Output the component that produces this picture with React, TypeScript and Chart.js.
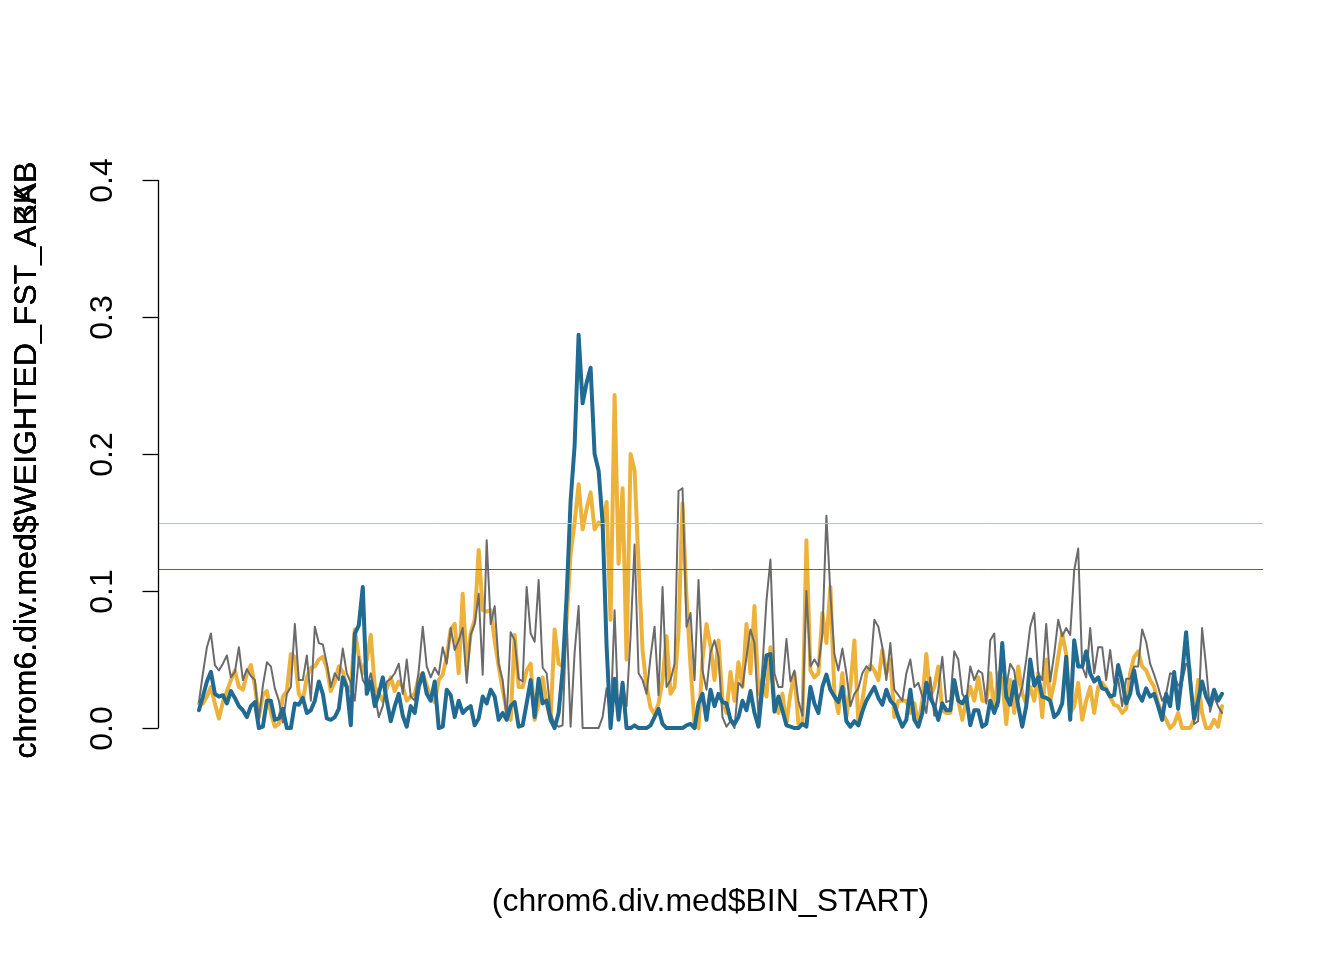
import React, { useEffect, useRef } from "react";
import { Chart, registerables } from "chart.js";

Chart.register(...registerables);

// FST per bin along chromosome 6 (bin index 0..256)
const grayFst: number[] = [
  0.019,0.040,0.059,0.069,0.046,0.042,0.047,0.053,0.037,0.041,0.059,0.035,0.043,0.038,0.035,0.006,0.031,0.048,0.045,0.029,0.020,0.004,0.025,0.030,0.076,0.035,0.035,0.053,0.020,0.074,0.062,
  0.061,0.047,0.030,0.040,0.035,0.058,0.040,0.033,0.020,0.052,0.035,0.030,0.040,0.025,0.008,0.016,0.034,0.036,0.040,0.047,0.025,0.050,0.023,0.020,0.042,0.074,0.045,0.037,0.044,0.039,0.059,0.047,0.073,
  0.057,0.064,0.073,0.033,0.068,0.076,0.098,0.039,0.137,0.076,0.089,0.047,0.035,0.006,0.070,0.064,0.036,0.034,0.103,0.069,0.063,0.108,0.044,0.040,0.011,0.003,0.001,0.002,0.081,0.001,0.055,0.089,
  0,0,0,0,0,0.008,0.029,0.006,0.086,0.006,0.033,0.016,0.067,0.134,0.040,0.035,0.025,0.052,0.074,0.024,0.103,0.030,0.035,0.047,0.173,0.175,0.074,0.084,0.035,0.108,0.042,0.028,0.055,
  0.064,0.052,0.008,0.001,0.005,0,0.033,0.030,0.052,0.072,0.062,0.008,0.045,0.093,0.123,0.040,0.030,0.030,0.065,0.034,0.042,0.020,0.009,0.100,0.045,0.050,0.045,0.069,0.155,0.098,0.054,0.042,
  0.058,0.040,0.016,0.025,0.029,0.040,0.045,0.042,0.079,0.074,0.059,0.035,0.062,0.028,0.024,0.020,0.040,0.050,0.030,0.033,0.023,0.011,0.037,0.009,0.028,0.052,0.019,0.020,0.056,0.050,0.025,0.020,0.045,
  0.035,0.042,0.040,0.018,0.064,0.069,0.016,0.057,0.030,0.047,0.042,0.020,0.030,0.050,0.074,0.084,0.040,0.035,0.076,0.034,0.054,0.079,0.067,0.073,0.068,0.115,0.131,0.045,0.037,0.073,0.040,0.059,
  0.059,0.035,0.057,0.033,0.036,0.016,0.036,0.036,0.045,0.045,0.072,0.063,0.047,0.039,0.030,0.020,0.025,0.040,0.039,0.031,0.034,0.047,0.045,0.003,0.005,0.073,0.045,0.012,0.023,0.016,0.011,
];

const orangeFst: number[] = [
  0.018,0.018,0.023,0.030,0.018,0.007,0.019,0.027,0.035,0.042,0.030,0.028,0.040,0.046,0.031,0.008,0.024,0.027,0.011,0.001,0.003,0.023,0.027,0.054,0.052,0.025,0.020,0.037,0.044,0.045,0.050,
  0.052,0.044,0.027,0.034,0.045,0.041,0.030,0.027,0.072,0.052,0.040,0.050,0.068,0.030,0.025,0.020,0.029,0.037,0.027,0.034,0.030,0.020,0.023,0.025,0.037,0.040,0.031,0.022,0.019,0.035,0.039,0.052,0.072,
  0.076,0.040,0.098,0.045,0.069,0.079,0.130,0.086,0.085,0.086,0.064,0.045,0.028,0.013,0.006,0.068,0.030,0.030,0.042,0.047,0.006,0.018,0.037,0.018,0.006,0.072,0.047,0.045,0.079,0.127,0.150,0.178,
  0.145,0.160,0.172,0.145,0.150,0.148,0.165,0.079,0.243,0.120,0.175,0.050,0.200,0.188,0.120,0.057,0.030,0.015,0.010,0.018,0.035,0.067,0.025,0.030,0.070,0.164,0.095,0.045,0.003,0.000,0.050,0.076,0.060,
  0.035,0.064,0.020,0.011,0.041,0.020,0.048,0.030,0.076,0.040,0.089,0.025,0.035,0.023,0.059,0.018,0.011,0.025,0.003,0.025,0.040,0.003,0.003,0.137,0.042,0.037,0.040,0.084,0.062,0.103,0.025,0.011,
  0.040,0.008,0.030,0.064,0.003,0.020,0.040,0.046,0.042,0.035,0.057,0.040,0.050,0.008,0.020,0.020,0.020,0.011,0.018,0.003,0.020,0.054,0.023,0.030,0.045,0.013,0.011,0.011,0.034,0.020,0.006,0.020,0.030,
  0.020,0.037,0.020,0.020,0.040,0.012,0.040,0.035,0.003,0.035,0.011,0.045,0.025,0.018,0.030,0.020,0.040,0.008,0.050,0.020,0.033,0.052,0.069,0.054,0.011,0.016,0.033,0.006,0.020,0.030,0.011,0.030,
  0.033,0.029,0.023,0.017,0.016,0.011,0.014,0.040,0.052,0.056,0.045,0.042,0.035,0.030,0.018,0.011,0.006,0,0.003,0.011,0,0,0,0.006,0.035,0.011,0,0,0.006,0.001,0.016,
];

const blueFst: number[] = [
  0.013,0.023,0.034,0.041,0.025,0.023,0.024,0.018,0.027,0.022,0.016,0.013,0.008,0.016,0.019,0,0.001,0.020,0.020,0.006,0.007,0.014,0,0,0.018,0.017,0.022,0.011,0.013,0.020,0.034,
  0.025,0.007,0.006,0.008,0.014,0.037,0.030,0.002,0.069,0.075,0.103,0.025,0.034,0.016,0.025,0.037,0.020,0.005,0.016,0.025,0.009,0.001,0.016,0.011,0.030,0.040,0.025,0.020,0.034,0,0.001,0.028,0.024,
  0.008,0.020,0.011,0.014,0.016,0.002,0.007,0.023,0.018,0.028,0.023,0.006,0.011,0.006,0.016,0.019,0.001,0.002,0.018,0.035,0.008,0.036,0.018,0.020,0.006,0,0.011,0.042,0.096,0.166,0.206,0.287,
  0.237,0.252,0.263,0.200,0.188,0.150,0.060,0,0.036,0.006,0.033,0,0,0.002,0,0,0,0.002,0.008,0.014,0.003,0,0,0,0,0,0.002,0.003,0,0.018,0.025,0.006,0.028,
  0.016,0.025,0.019,0.018,0.006,0.003,0.008,0.020,0.013,0.027,0.011,0.001,0.030,0.053,0.054,0.012,0.023,0.013,0.002,0.001,0,0,0.003,0.001,0.030,0.018,0.011,0.030,0.039,0.028,0.023,0.019,
  0.030,0.005,0.001,0.005,0.002,0.012,0.020,0.025,0.030,0.022,0.017,0.028,0.020,0.017,0.008,0.001,0.006,0.028,0.006,0.001,0.011,0.033,0.022,0.016,0.006,0.018,0.013,0.013,0.035,0.020,0.018,0.023,0.002,
  0.013,0.013,0.001,0.003,0.020,0.011,0.020,0.062,0.023,0.017,0.034,0.016,0.001,0.016,0.050,0.031,0.037,0.023,0.022,0.020,0.008,0.011,0.018,0.052,0.006,0.064,0.045,0.045,0.056,0.040,0.034,0.037,
  0.029,0.028,0.023,0.024,0.046,0.034,0.018,0.025,0.042,0.025,0.020,0.029,0.023,0.025,0.016,0.006,0.025,0.016,0.041,0.014,0.039,0.070,0.035,0.007,0.020,0.034,0.023,0.017,0.028,0.020,0.025,
];

const yTicks: number[] = [0, 0.1, 0.2, 0.3, 0.4];
const yTickLabels: string[] = ["0.0", "0.1", "0.2", "0.3", "0.4"];
const orangeThreshold = 0.1496;
const blueThreshold = 0.116;

const xTitle = "(chrom6.div.med$BIN_START)";
const yTitles: string[] = [
  "chrom6.div.med$WEIGHTED_FST_ABAB",
  "chrom6.div.med$WEIGHTED_FST_AKAB",
  "chrom6.div.med$WEIGHTED_FST_ABKB",
];

const ORANGE = "#ecb23b";
const BLUE = "#216a92";
const GRAY = "#6b6b6b";
const FONT = '32px "Liberation Sans", Arial, sans-serif';

const toPoints = (arr: number[]) => arr.map((v, i) => ({ x: i, y: v }));

export default function App() {
  const ref = useRef<HTMLCanvasElement | null>(null);

  useEffect(() => {
    document.body.style.margin = "0";
    const canvas = ref.current;
    if (!canvas) return;
    const n = blueFst.length - 1;

    const rAxisPlugin = {
      id: "rAxis",
      afterDatasetsDraw(chart: any) {
        const ctx = chart.ctx as CanvasRenderingContext2D;
        const { chartArea } = chart;
        const ys = chart.scales.y;
        ctx.save();
        // threshold lines
        ctx.lineWidth = 1;
        ctx.strokeStyle = "#efba58";
        let py = Math.round(ys.getPixelForValue(orangeThreshold)) + 0.5;
        ctx.beginPath();
        ctx.moveTo(chartArea.left, py);
        ctx.lineTo(chartArea.right, py);
        ctx.stroke();
        ctx.strokeStyle = "#3f6a88";
        py = Math.round(ys.getPixelForValue(blueThreshold)) + 0.5;
        ctx.beginPath();
        ctx.moveTo(chartArea.left, py);
        ctx.lineTo(chartArea.right, py);
        ctx.stroke();

        // y axis
        const ax = chartArea.left + 0.5;
        ctx.strokeStyle = "#000";
        ctx.lineWidth = 1.3;
        ctx.beginPath();
        ctx.moveTo(ax, ys.getPixelForValue(yTicks[0]));
        ctx.lineTo(ax, ys.getPixelForValue(yTicks[yTicks.length - 1]));
        ctx.stroke();
        ctx.fillStyle = "#000";
        ctx.font = FONT;
        yTicks.forEach((t, k) => {
          const p = Math.round(ys.getPixelForValue(t)) + 0.5;
          ctx.beginPath();
          ctx.moveTo(ax, p);
          ctx.lineTo(ax - 16, p);
          ctx.stroke();
          ctx.save();
          ctx.translate(112, p);
          ctx.rotate(-Math.PI / 2);
          ctx.textAlign = "center";
          ctx.textBaseline = "alphabetic";
          ctx.fillText(yTickLabels[k], 0, 0);
          ctx.restore();
        });

        // titles
        ctx.textAlign = "center";
        ctx.textBaseline = "alphabetic";
        ctx.fillText(xTitle, (chartArea.left + chartArea.right) / 2, 911);
        yTitles.forEach((t) => {
          ctx.save();
          ctx.translate(36, 460);
          ctx.rotate(-Math.PI / 2);
          ctx.fillText(t, 0, 0);
          ctx.restore();
        });
        ctx.restore();
      },
    };

    const common = {
      pointRadius: 0,
      tension: 0,
      fill: false,
      borderCapStyle: "round" as const,
      borderJoinStyle: "round" as const,
    };

    const chart = new Chart(canvas, {
      type: "line",
      data: {
        datasets: [
          { ...common, label: "blue", data: toPoints(blueFst), borderColor: BLUE, borderWidth: 4, order: 0 },
          { ...common, label: "gray", data: toPoints(grayFst), borderColor: GRAY, borderWidth: 2, order: 1 },
          { ...common, label: "orange", data: toPoints(orangeFst), borderColor: ORANGE, borderWidth: 4, order: 2 },
        ],
      },
      options: {
        animation: false,
        responsive: false,
        devicePixelRatio: 1,
        layout: { padding: { left: 158, right: 81, top: 158, bottom: 210 } },
        plugins: { legend: { display: false }, tooltip: { enabled: false } },
        scales: {
          x: { type: "linear", display: false, min: -0.04 * n, max: n * 1.04 },
          y: { type: "linear", display: false, min: -0.016, max: 0.416 },
        },
      },
      plugins: [rAxisPlugin],
    });
    return () => chart.destroy();
  }, []);

  return (
    <div style={{ width: 1344, height: 960, background: "#fff" }}>
      <canvas ref={ref} width={1344} height={960} style={{ display: "block" }} />
    </div>
  );
}
